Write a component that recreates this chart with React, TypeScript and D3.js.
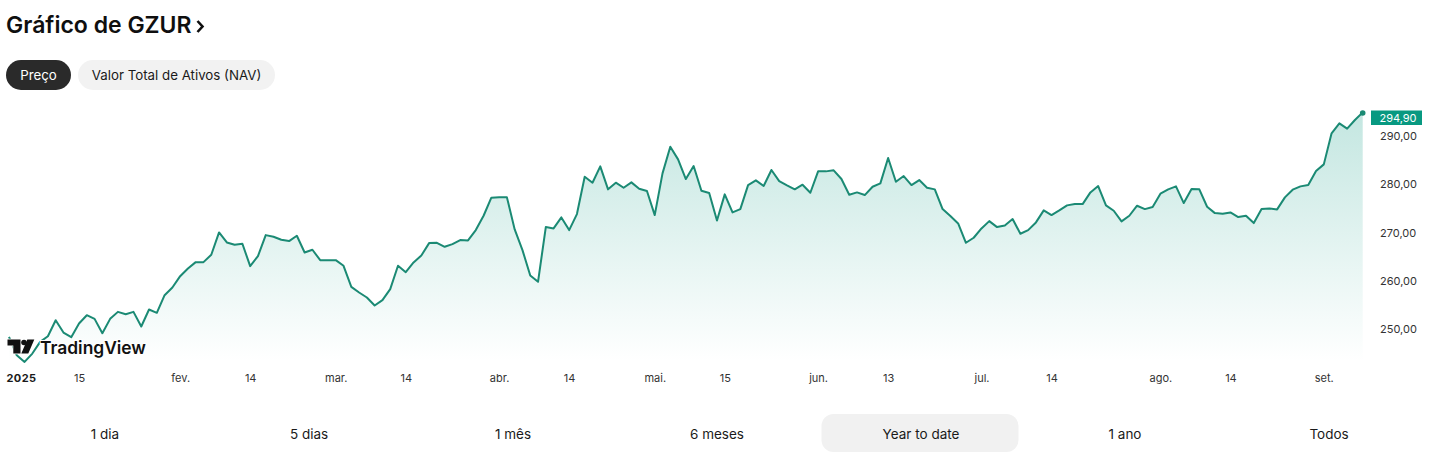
import React, { useEffect, useRef } from 'react';
import * as d3 from 'd3';

// closing price per trading day
const prices = [
  248.37, 244.56, 243.18, 244.91, 247.33, 248.51, 251.82, 249.27, 248.30, 251.13,
  252.86, 252.10, 249.13, 252.10, 253.55, 253.07, 253.55, 250.51, 254.04, 253.35,
  257.01, 258.60, 260.95, 262.54, 263.86, 263.86, 265.38, 270.01, 267.94, 267.45,
  267.66, 263.03, 265.10, 269.46, 269.11, 268.49, 268.22, 269.32, 265.86, 266.42,
  264.27, 264.27, 264.27, 263.10, 258.74, 257.56, 256.53, 254.87, 255.97, 258.26,
  263.10, 261.78, 263.79, 265.24, 267.80, 267.87, 267.04, 267.59, 268.42, 268.35,
  270.50, 273.47, 277.21, 277.28, 277.28, 270.64, 266.35, 261.09, 259.78, 271.12,
  270.84, 273.13, 270.50, 273.82, 281.56, 280.32, 283.71, 278.94, 280.32, 279.28,
  280.39, 279.07, 278.59, 273.61, 282.25, 287.79, 285.16, 281.08, 283.78, 278.66,
  278.17, 272.50, 277.90, 274.16, 274.85, 279.83, 280.80, 279.63, 282.95, 280.66,
  279.77, 278.94, 279.90, 278.24, 282.67, 282.67, 282.88, 281.08, 277.83, 278.31,
  277.76, 279.49, 280.18, 285.44, 280.53, 281.70, 279.83, 280.87, 279.28, 278.94,
  274.85, 273.40, 271.88, 267.87, 268.91, 270.84, 272.36, 271.12, 271.47, 272.78,
  269.74, 270.50, 272.09, 274.58, 273.61, 274.58, 275.62, 275.89, 275.89, 278.31,
  279.63, 275.62, 274.51, 272.30, 273.47, 275.55, 274.85, 275.27, 278.04, 278.94,
  279.56, 276.10, 279.00, 278.94, 275.34, 274.02, 273.89, 274.16, 273.19, 273.47,
  271.95, 274.85, 274.99, 274.79, 277.28, 278.87, 279.56, 279.83, 282.74, 284.12,
  290.55, 292.63, 291.52, 293.32, 294.90,
];

const priceTicks = [250, 260, 270, 280, 290];
const lastPriceLabel = '294,90';

// trading-day index of each date tick
const dateTickIndex = [0, 9, 22, 31, 42, 51, 63, 72, 83, 92, 104, 113, 125, 134, 148, 157, 169];
const dateTickLabels = ['2025', '15', 'fev.', '14', 'mar.', '14', 'abr.', '14', 'mai.', '15', 'jun.', '13', 'jul.', '14', 'ago.', '14', 'set.'];

const rangeLabels = ['1 dia', '5 dias', '1 mês', '6 meses', 'Year to date', '1 ano', 'Todos'];
const activeRange = 'Year to date';

const FONT = 'Inter, "Noto Sans", sans-serif';
const LINE_COLOR = '#1b8a74';

export default function App() {
  const svgRef = useRef<SVGSVGElement>(null);

  useEffect(() => {
    const svg = d3.select(svgRef.current!);
    svg.selectAll('*').remove();

    const x = d3.scaleLinear().domain([0, prices.length - 1]).range([9, 1362.7]);
    const y = d3.scaleLinear().domain([250, 290]).range([329, 136]);
    const chartBottom = 362;

    // Title
    svg.append('text')
      .attr('x', 6).attr('y', 33)
      .attr('font-family', FONT).attr('font-size', 23).attr('font-weight', 600)
      .attr('fill', '#0f0f0f')
      .text('Gráfico de GZUR');
    svg.append('path')
      .attr('d', 'M197.5 21 L202.5 26.5 L197.5 32')
      .attr('fill', 'none').attr('stroke', '#0f0f0f').attr('stroke-width', 2.6);

    // Price / NAV pills
    const pills = [
      { label: 'Preço', x0: 6, x1: 71, bg: '#2a2a2a', fg: '#ffffff' },
      { label: 'Valor Total de Ativos (NAV)', x0: 78, x1: 275, bg: '#f2f2f2', fg: '#1a1a1a' },
    ];
    pills.forEach(p => {
      svg.append('rect')
        .attr('x', p.x0).attr('y', 60).attr('width', p.x1 - p.x0).attr('height', 30).attr('rx', 15)
        .attr('fill', p.bg);
      svg.append('text')
        .attr('x', (p.x0 + p.x1) / 2).attr('y', 80).attr('text-anchor', 'middle')
        .attr('font-family', FONT).attr('font-size', 13.3).attr('fill', p.fg)
        .text(p.label);
    });

    // Area gradient
    const defs = svg.append('defs');
    const gradient = defs.append('linearGradient')
      .attr('id', 'areaFill')
      .attr('gradientUnits', 'userSpaceOnUse')
      .attr('x1', 0).attr('x2', 0).attr('y1', y(294.9)).attr('y2', chartBottom);
    gradient.append('stop').attr('offset', 0).attr('stop-color', '#089981').attr('stop-opacity', 0.24);
    gradient.append('stop').attr('offset', 1).attr('stop-color', '#089981').attr('stop-opacity', 0);

    const area = d3.area<number>()
      .x((_, i) => x(i))
      .y0(chartBottom)
      .y1(d => y(d));
    const line = d3.line<number>()
      .x((_, i) => x(i))
      .y(d => y(d));

    svg.append('path').datum(prices).attr('d', area).attr('fill', 'url(#areaFill)');
    svg.append('path').datum(prices).attr('d', line)
      .attr('fill', 'none').attr('stroke', LINE_COLOR).attr('stroke-width', 2).attr('stroke-linejoin', 'round');

    const lastIdx = prices.length - 1;
    svg.append('circle')
      .attr('cx', x(lastIdx)).attr('cy', y(prices[lastIdx]) + 0.6).attr('r', 2.8)
      .attr('fill', LINE_COLOR);

    // Date axis
    const xAxis = d3.axisBottom(x)
      .tickValues(dateTickIndex)
      .tickSize(0)
      .tickFormat((_, i) => dateTickLabels[i]);
    const xG = svg.append('g').attr('transform', 'translate(0,370)').call(xAxis);
    xG.select('.domain').remove();
    xG.selectAll('text')
      .attr('font-family', FONT).attr('font-size', 11).attr('fill', '#333333').attr('y', 4)
      .attr('dy', '0.71em');
    xG.selectAll<SVGTextElement, number>('text')
      .filter((_, i) => i === 0)
      .attr('text-anchor', 'start').attr('x', -3).attr('font-weight', 700).attr('fill', '#1a1a1a')
      .attr('letter-spacing', 0.4);

    // Price axis
    const yAxis = d3.axisRight(y)
      .tickValues(priceTicks)
      .tickSize(0)
      .tickFormat(d => `${d3.format('.2f')(d as number).replace('.', ',')}`);
    const yG = svg.append('g').attr('transform', 'translate(1380,0)').call(yAxis);
    yG.select('.domain').remove();
    yG.selectAll('text')
      .attr('font-family', FONT).attr('font-size', 11).attr('fill', '#333333').attr('x', 0);

    // Last price tag
    svg.append('rect')
      .attr('x', 1371).attr('y', 110.5).attr('width', 51).attr('height', 14.5).attr('fill', '#089981');
    svg.append('text')
      .attr('x', 1398).attr('y', 121.5).attr('text-anchor', 'middle')
      .attr('font-family', FONT).attr('font-size', 11).attr('fill', '#ffffff')
      .text(lastPriceLabel);

    // TradingView watermark
    const logo = svg.append('g').attr('transform', 'translate(7.5,339.5)');
    logo.append('path')
      .attr('d', 'M0 0 H13 V14 H5.8 V6 H0 Z M19.8 0 H26.8 L20.8 14 H13.8 Z')
      .attr('fill', '#111111').attr('stroke', '#ffffff').attr('stroke-width', 1.5).attr('paint-order', 'stroke');
    logo.append('circle').attr('cx', 16.5).attr('cy', 3).attr('r', 2.8).attr('fill', '#111111');
    logo.append('text')
      .attr('x', 32.5).attr('y', 14.5)
      .attr('font-family', FONT).attr('font-size', 17.4).attr('font-weight', 600).attr('fill', '#111111')
      .attr('stroke', '#ffffff').attr('stroke-width', 2).attr('paint-order', 'stroke')
      .text('TradingView');

    // Range selector
    const rangeX = d3.scaleBand<string>().domain(rangeLabels).range([3, 1431]);
    rangeLabels.forEach(label => {
      const left = rangeX(label)!;
      if (label === activeRange) {
        svg.append('rect')
          .attr('x', left + 2.5).attr('y', 414).attr('width', rangeX.bandwidth() - 7).attr('height', 38).attr('rx', 12)
          .attr('fill', '#f1f1f1');
      }
      svg.append('text')
        .attr('x', left + rangeX.bandwidth() / 2).attr('y', 438.5).attr('text-anchor', 'middle')
        .attr('font-family', FONT).attr('font-size', 13.5).attr('fill', '#1a1a1a')
        .text(label);
    });
  }, []);

  return (
    <div style={{ position: 'absolute', left: 0, top: 0 }}>
      <svg ref={svgRef} width={1440} height={463} style={{ display: 'block' }} />
    </div>
  );
}
